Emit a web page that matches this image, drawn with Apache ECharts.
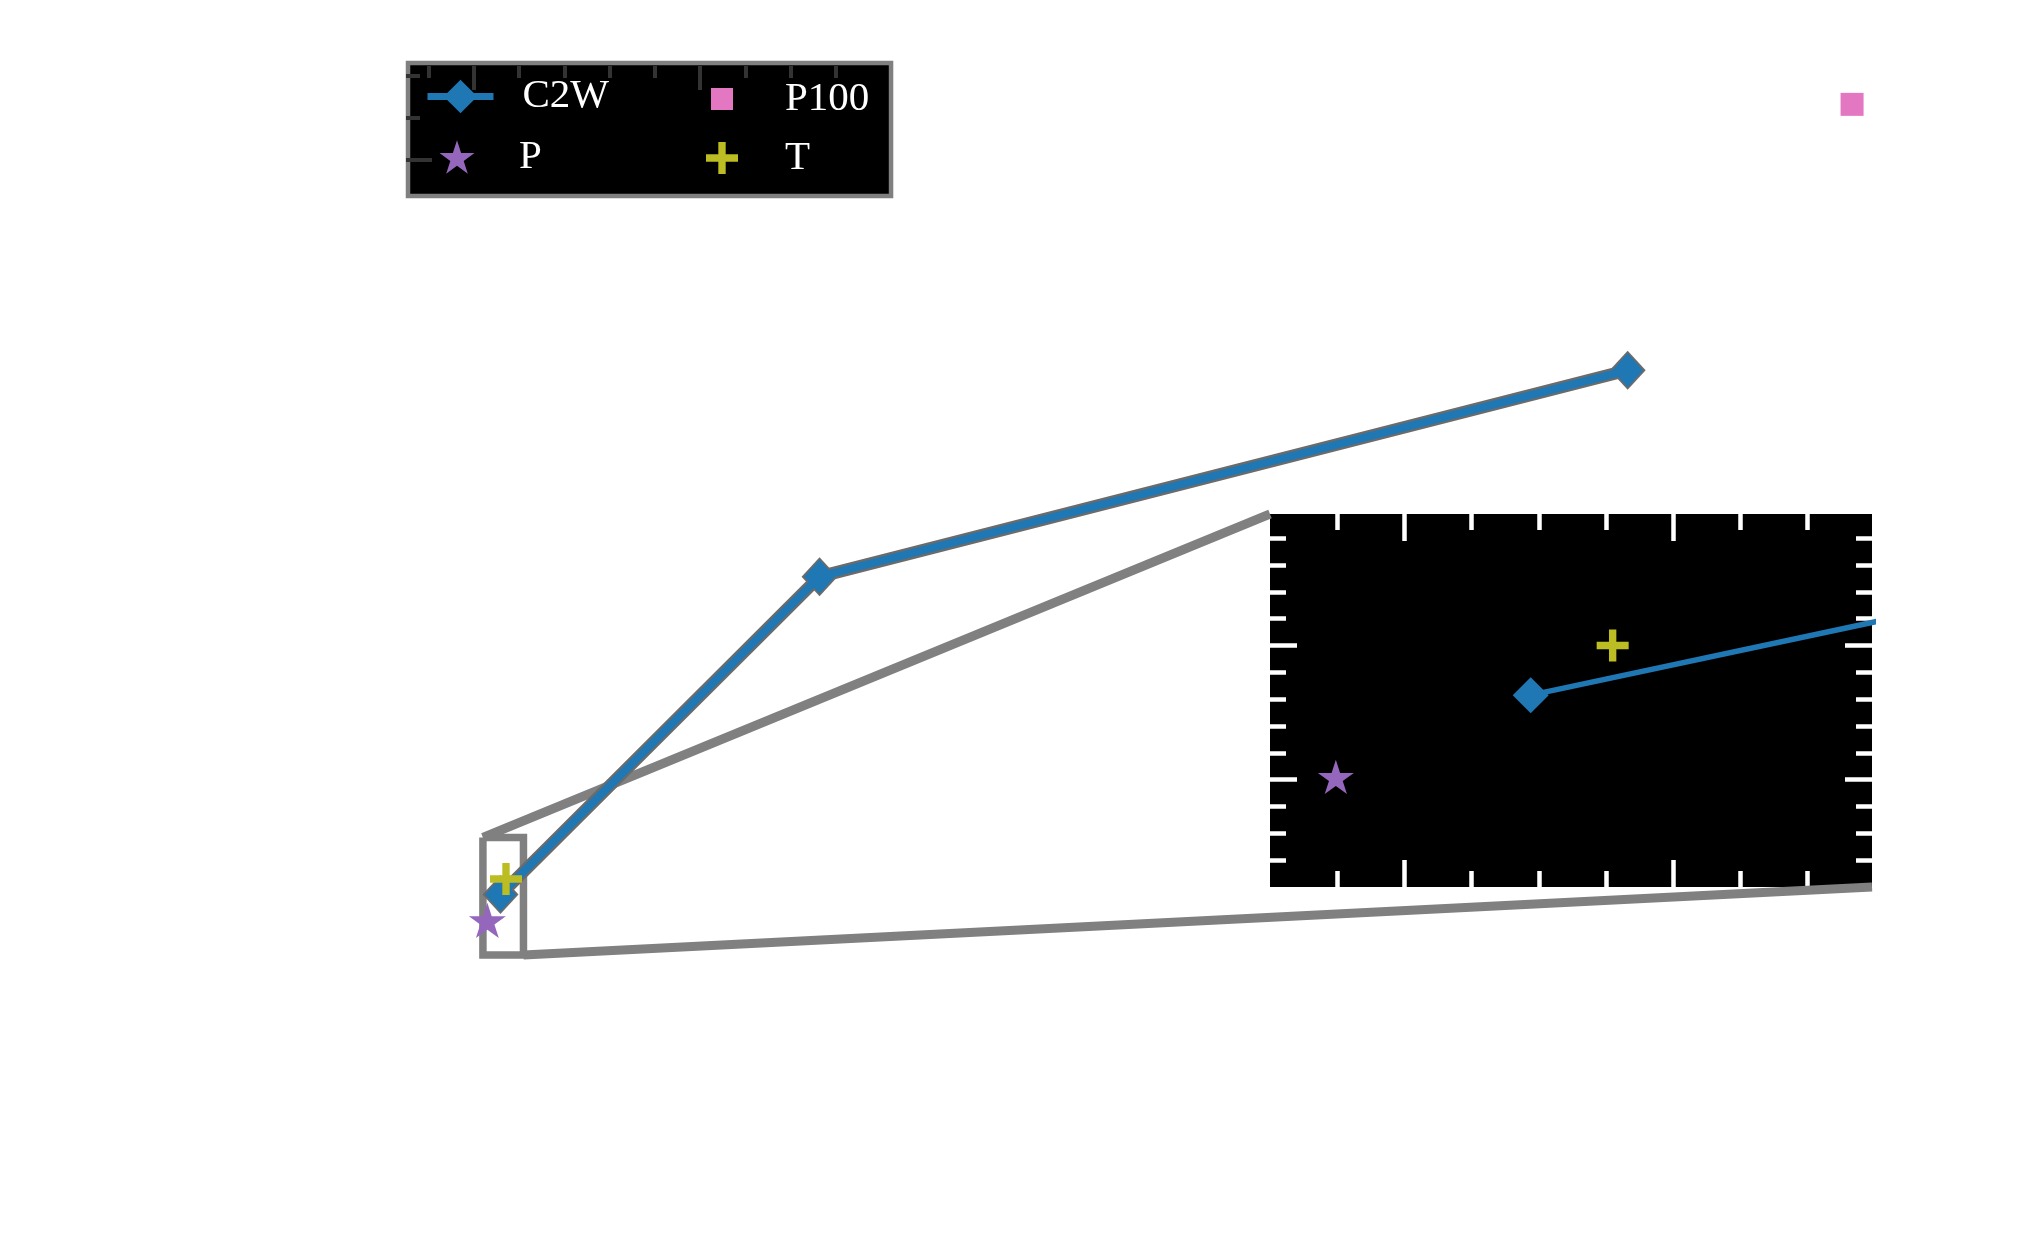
<!DOCTYPE html>
<html><head><meta charset="utf-8">
<script src="https://cdn.jsdelivr.net/npm/echarts@6.0.0/dist/echarts.min.js"></script>
<style>html,body{margin:0;padding:0;background:#fff;} #c{width:2022px;height:1249px;}</style>
</head><body><div id="c"></div>
<script>
// ---- data ----
const c2wX = [2.94, 38.2, 127.5];
const c2wY = [72.63, 80.15, 85.03];
const pX = [1.49];
const pY = [72.02];
const p100X = [152.3];
const p100Y = [91.32];
const tX = [3.55];
const tY = [73.0];
// axis limits
const mainXRange = [-7.5, 165];
const mainYRange = [67.5, 92.44];
const insetXRange = [1.0, 5.48];
const insetYRange = [71.2, 73.98];
// tick values
const insetXMajor = [2, 4];
const insetXMinor = [1.5, 2.5, 3, 3.5, 4.5, 5];
const insetYMajor = [72, 73];
const insetYMinor = [71.4, 71.6, 71.8, 72.2, 72.4, 72.6, 72.8, 73.2, 73.4, 73.6, 73.8];
const mainXTickMajor = [0, 25];
const mainXTickMinor = [-5, 5, 10, 15, 20, 30, 35, 40];
const mainYTickMajor = [90];
const mainYTickMinor = [91, 92];

const pairs = (xs, ys) => xs.map((x, i) => [x, ys[i]]);

// ---- layout / style ----
const MAIN = {left: 406, top: 57, width: 1561, height: 1054.5};
const TICKTOP = 66;
const INSET = {left: 1270, top: 514, width: 602, height: 373};
const COL = {c2w: '#1f77b4', p: '#9467bd', p100: '#e377c2', t: '#bcbd22', gray: '#808080', edge: '#6b6b6b'};
const TEXT_H = 41; // legend text box height

function starPath() {
  let d = '';
  for (let i = 0; i < 10; i++) {
    const r = i % 2 ? 0.381966 : 1;
    const a = (-90 + 36 * i) * Math.PI / 180;
    d += (i ? 'L' : 'M') + (r * Math.cos(a)).toFixed(4) + ',' + (r * Math.sin(a)).toFixed(4) + ' ';
  }
  return 'path://' + d + 'Z';
}
const STAR = starPath();
const A = 0.23;
const PLUS = `path://M${-A},-1 L${A},-1 L${A},${-A} L1,${-A} L1,${A} L${A},${A} L${A},1 L${-A},1 L${-A},${A} L-1,${A} L-1,${-A} L${-A},${-A} Z`;
const SQUARE = 'path://M0,0 L1,0 L1,1 L0,1 Z';

function mainData(px, py) {
  return [
    mainXRange[0] + (px - MAIN.left) / MAIN.width * (mainXRange[1] - mainXRange[0]),
    mainYRange[1] - (py - MAIN.top) / MAIN.height * (mainYRange[1] - mainYRange[0])
  ];
}
const rx0 = insetXRange[0], rx1 = insetXRange[1], ry0 = insetYRange[0], ry1 = insetYRange[1];
const rectData = [[rx0, ry1], [rx1, ry1], [rx1, ry0], [rx0, ry0], [rx0, ry1]];
const conn1 = [[rx0, ry1], mainData(INSET.left, INSET.top)];
const conn2 = [[rx1, ry0], mainData(INSET.left + INSET.width, INSET.top + INSET.height)];
const tickYRange = [mainYRange[0], mainData(0, TICKTOP)[1]];

function tickAxis(gridIndex, position, range, values, len, color, width, z) {
  return {
    type: 'value', gridIndex, position, min: range[0], max: range[1], z,
    axisLine: {show: false, onZero: false}, axisLabel: {show: false}, splitLine: {show: false},
    axisTick: {show: true, inside: true, length: len, customValues: values, lineStyle: {color, width}}
  };
}

const FONT = 'Liberation Serif, Times New Roman, serif';
const txt = (pad) => ({color: '#fff', fontFamily: FONT, fontSize: 41, lineHeight: 20, padding: [0, 0, 0, pad]});
// top of a single-item legend whose icon is centred on row y = yc
const rowTop = (yc, h) => yc - Math.max(h, TEXT_H) / 2;

const chart = echarts.init(document.getElementById('c'), null, {renderer: 'canvas'});
chart.setOption({
  animation: false,
  backgroundColor: '#ffffff',
  grid: [
    {left: MAIN.left, top: MAIN.top, width: MAIN.width, height: MAIN.height, show: false, containLabel: false, outerBoundsMode: 'none'},
    {left: INSET.left, top: INSET.top, width: INSET.width, height: INSET.height, show: true, backgroundColor: '#000', borderWidth: 0, containLabel: false, outerBoundsMode: 'none', z: 0},
    {left: MAIN.left, top: TICKTOP, width: MAIN.width, height: MAIN.top + MAIN.height - TICKTOP, show: false, containLabel: false, outerBoundsMode: 'none'}
  ],
  xAxis: [
    {type: 'value', gridIndex: 0, min: mainXRange[0], max: mainXRange[1], show: false},
    tickAxis(1, 'bottom', insetXRange, insetXMajor, 27, '#fff', 4.5, 1),
    tickAxis(1, 'bottom', insetXRange, insetXMinor, 16, '#fff', 4.5, 1),
    tickAxis(1, 'top', insetXRange, insetXMajor, 27, '#fff', 4.5, 1),
    tickAxis(1, 'top', insetXRange, insetXMinor, 16, '#fff', 4.5, 1),
    tickAxis(2, 'top', mainXRange, mainXTickMajor, 24, '#333', 4, 10),
    tickAxis(2, 'top', mainXRange, mainXTickMinor, 12, '#333', 4, 10)
  ],
  yAxis: [
    {type: 'value', gridIndex: 0, min: mainYRange[0], max: mainYRange[1], show: false},
    tickAxis(1, 'left', insetYRange, insetYMajor, 27, '#fff', 4.5, 1),
    tickAxis(1, 'left', insetYRange, insetYMinor, 16, '#fff', 4.5, 1),
    tickAxis(1, 'right', insetYRange, insetYMajor, 27, '#fff', 4.5, 1),
    tickAxis(1, 'right', insetYRange, insetYMinor, 16, '#fff', 4.5, 1),
    tickAxis(2, 'left', tickYRange, mainYTickMajor, 26, '#333', 4, 10),
    tickAxis(2, 'left', tickYRange, mainYTickMinor, 14, '#333', 4, 10)
  ],
  legend: [
    {data: ['C2W'], left: 408, top: 63, orient: 'vertical', itemWidth: 66, itemHeight: 42,
     padding: [13, 282, 79, 16], backgroundColor: '#000', borderColor: COL.gray, borderWidth: 4.5,
     lineStyle: {width: 7}, textStyle: txt(24), selectedMode: false, z: 4},
    {data: ['P'], left: 439.5, top: rowTop(157, 35), itemWidth: 35, itemHeight: 35, padding: 0, symbolKeepAspect: true,
     textStyle: txt(39.5), selectedMode: false, z: 5},
    {data: ['P100'], left: 711, top: rowTop(99, 22), itemWidth: 22, itemHeight: 22, padding: 0, symbolKeepAspect: true,
     textStyle: txt(47), selectedMode: false, z: 5},
    {data: ['T'], left: 706, top: rowTop(158, 32), itemWidth: 32, itemHeight: 32, padding: 0, symbolKeepAspect: true,
     textStyle: txt(42), selectedMode: false, z: 5}
  ],
  series: [
    {name: 'zoom-box', type: 'line', xAxisIndex: 0, yAxisIndex: 0, data: rectData, symbol: 'none', clip: false, silent: true,
     lineStyle: {color: COL.gray, width: 7.5, join: 'miter'}, z: 2},
    {name: 'zoom-link-1', type: 'line', xAxisIndex: 0, yAxisIndex: 0, data: conn1, symbol: 'none', clip: false, silent: true,
     lineStyle: {color: COL.gray, width: 9}, z: 2},
    {name: 'zoom-link-2', type: 'line', xAxisIndex: 0, yAxisIndex: 0, data: conn2, symbol: 'none', clip: false, silent: true,
     lineStyle: {color: COL.gray, width: 9}, z: 2},
    {name: 'C2W-edge', type: 'line', xAxisIndex: 0, yAxisIndex: 0, data: pairs(c2wX, c2wY), symbol: 'diamond', symbolSize: [36, 39],
     silent: true, lineStyle: {color: COL.edge, width: 12.5}, itemStyle: {color: COL.edge}, z: 2},
    {name: 'C2W', type: 'line', xAxisIndex: 0, yAxisIndex: 0, data: pairs(c2wX, c2wY), symbol: 'diamond', symbolSize: [31, 34],
     lineStyle: {color: COL.c2w, width: 8}, itemStyle: {color: COL.c2w}, z: 3},
    {name: 'C2W', type: 'line', xAxisIndex: 1, yAxisIndex: 1, data: pairs(c2wX, c2wY), symbol: 'diamond', symbolSize: [36, 36],
     lineStyle: {color: COL.c2w, width: 5.5}, itemStyle: {color: COL.c2w}, z: 3},
    {name: 'P', type: 'scatter', xAxisIndex: 0, yAxisIndex: 0, data: pairs(pX, pY), symbol: STAR, symbolSize: 37, symbolKeepAspect: true,
     itemStyle: {color: COL.p, opacity: 1}, z: 4},
    {name: 'P', type: 'scatter', xAxisIndex: 1, yAxisIndex: 1, data: pairs(pX, pY), symbol: STAR, symbolSize: 36, symbolKeepAspect: true,
     itemStyle: {color: COL.p, opacity: 1}, z: 4},
    {name: 'P100', type: 'scatter', xAxisIndex: 0, yAxisIndex: 0, data: pairs(p100X, p100Y), symbol: SQUARE, symbolSize: 23,
     itemStyle: {color: COL.p100, opacity: 1}, z: 4},
    {name: 'T', type: 'scatter', xAxisIndex: 0, yAxisIndex: 0, data: pairs(tX, tY), symbol: PLUS, symbolSize: 32,
     itemStyle: {color: COL.t, opacity: 1}, z: 5},
    {name: 'T', type: 'scatter', xAxisIndex: 1, yAxisIndex: 1, data: pairs(tX, tY), symbol: PLUS, symbolSize: 32,
     itemStyle: {color: COL.t, opacity: 1}, z: 5}
  ]
});
</script>
</body></html>
